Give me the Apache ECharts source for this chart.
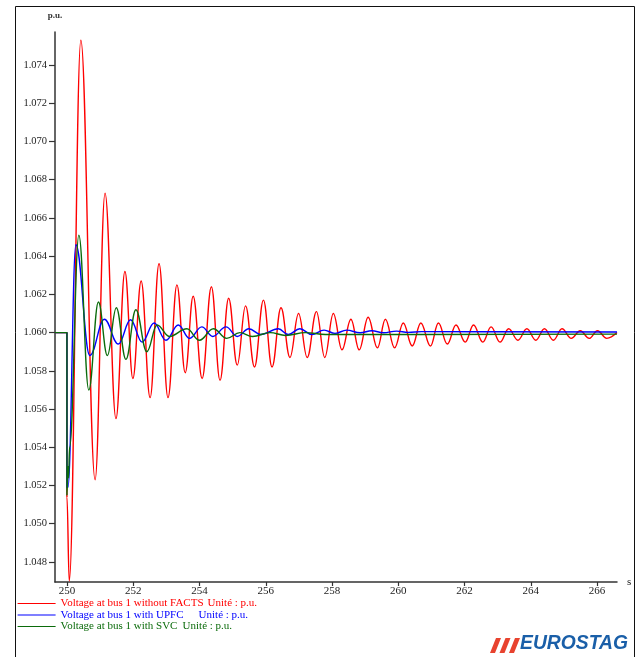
<!DOCTYPE html>
<html>
<head>
<meta charset="utf-8">
<script src="https://cdn.jsdelivr.net/npm/echarts@6/dist/echarts.min.js"></script>
<style>
html,body{margin:0;padding:0;background:#fff;}
#chart{width:641px;height:657px;}
</style>
</head>
<body>
<div id="chart"></div>
<script>
// ---- Data (time in s, voltage in p.u.) ----
const xTicks = [250, 252, 254, 256, 258, 260, 262, 264, 266];
const yTicks = [1.048, 1.050, 1.052, 1.054, 1.056, 1.058, 1.060, 1.062, 1.064, 1.066, 1.068, 1.070, 1.072, 1.074];

const seriesNames = [
  "Voltage at bus 1 without FACTS",
  "Voltage at bus 1 with UPFC",
  "Voltage at bus 1 with SVC"
];

// without FACTS (red)
const redT = [249.64, 250.00, 250.00, 250.07, 250.42, 250.85, 251.15, 251.48, 251.75, 251.99,
  252.24, 252.51, 252.78, 253.05, 253.32, 253.57, 253.81, 254.08, 254.36, 254.62,
  254.88, 255.14, 255.39, 255.66, 255.93, 256.19, 256.46, 256.73, 256.99, 257.25,
  257.53, 257.78, 258.04, 258.30, 258.57, 258.82, 259.09, 259.37, 259.61, 259.89,
  260.15, 260.42, 260.68, 260.97, 261.21, 261.48, 261.74, 262.02, 262.27, 262.55,
  262.80, 263.07, 263.33, 263.61, 263.88, 264.15, 264.41, 264.68, 264.94, 265.22,
  265.49, 265.76, 266.01, 266.29, 266.60];
const redV = [1.0600, 1.0600, 1.0514, 1.0470, 1.0753, 1.0523, 1.0673, 1.0555, 1.0632, 1.0576,
  1.0627, 1.0566, 1.0636, 1.0566, 1.0625, 1.0579, 1.0619, 1.0576, 1.0624, 1.0575,
  1.0618, 1.0583, 1.0614, 1.0582, 1.0617, 1.0582, 1.0613, 1.0587, 1.0610, 1.0587,
  1.0611, 1.0587, 1.0610, 1.0591, 1.0607, 1.0591, 1.0608, 1.0592, 1.0607, 1.0592,
  1.0605, 1.0593, 1.0605, 1.0593, 1.0605, 1.0594, 1.0604, 1.0595, 1.0604, 1.0595,
  1.0603, 1.0595, 1.0602, 1.0596, 1.0602, 1.0596, 1.0602, 1.0596, 1.0602, 1.0597,
  1.0601, 1.0597, 1.0601, 1.0597, 1.0600];

// with UPFC (blue)
const blueT = [249.64, 250.00, 250.00, 250.03, 250.27, 250.69, 251.13, 251.55, 251.92, 252.27,
  252.63, 252.99, 253.36, 253.70, 254.07, 254.40, 254.80, 255.14, 255.49, 255.85,
  256.38, 256.68, 257.03, 257.39, 257.76, 258.09, 258.44, 258.85, 259.20, 259.55,
  259.95, 260.30, 260.70, 266.60];
const blueV = [1.0600, 1.0600, 1.0519, 1.0519, 1.0646, 1.0588, 1.0607, 1.0594, 1.06067, 1.0595,
  1.0605, 1.0596, 1.0604, 1.0597, 1.0603, 1.0598, 1.0603, 1.0598, 1.0602, 1.0599,
  1.0602, 1.0599, 1.0602, 1.0599, 1.06013, 1.05996, 1.06013, 1.05999, 1.0601, 1.05999,
  1.06008, 1.06001, 1.06005, 1.06003];

// with SVC (green)
const greenT = [249.64, 250.00, 250.00, 250.03, 250.05, 250.08, 250.36, 250.66, 250.95, 251.22,
  251.49, 251.78, 252.08, 252.41, 252.72, 253.09, 253.62, 254.00, 254.42, 254.82,
  255.22, 255.60, 256.13, 256.60, 257.20, 257.80, 266.60];
const greenV = [1.0600, 1.0600, 1.0515, 1.0530, 1.0524, 1.0540, 1.0651, 1.0570, 1.0616, 1.0588,
  1.0613, 1.0586, 1.0612, 1.0590, 1.0604, 1.0598, 1.0602, 1.0596, 1.0602, 1.0597,
  1.0600, 1.0598, 1.0600, 1.05985, 1.0600, 1.0599, 1.05992];

const colors = ['#ff0000', '#0000ff', '#0b6b0b'];

// ---- Chart ----
const chart = echarts.init(document.getElementById('chart'), null, {renderer: 'canvas'});
const pair = (T, V) => T.map((t, i) => [t, V[i]]);
const serif = '"Liberation Serif", "DejaVu Serif", serif';

const mkSeries = (name, data, color) => ({
  name: name,
  type: 'line',
  data: data,
  symbol: 'none',
  smooth: 0.4,
  smoothMonotone: 'x',
  lineStyle: {color: color, width: 1.4},
  itemStyle: {color: color},
  z: 3
});

const option = {
  animation: false,
  backgroundColor: '#fff',
  grid: {left: 55, right: 24, top: 32, bottom: 75, containLabel: false, outerBoundsMode: 'none'},
  xAxis: {
    type: 'value',
    min: 249.64,
    max: 266.6,
    name: 's',
    nameLocation: 'end',
    nameGap: 10,
    nameTextStyle: {fontFamily: serif, fontSize: 11, color: '#222', verticalAlign: 'middle', align: 'left'},
    axisLine: {show: true, onZero: false, lineStyle: {color: '#333', width: 1.5}},
    axisTick: {show: true, length: 4, customValues: xTicks, lineStyle: {color: '#333', width: 1.2}},
    axisLabel: {customValues: xTicks, margin: 4, fontFamily: serif, fontSize: 11, color: '#222',
      formatter: v => String(v)},
    splitLine: {show: false}
  },
  yAxis: {
    type: 'value',
    min: 1.04695,
    max: 1.07573,
    name: 'p.u.',
    nameLocation: 'end',
    nameGap: 12,
    nameTextStyle: {fontFamily: serif, fontSize: 9, fontWeight: 'bold', color: '#333', align: 'center'},
    axisLine: {show: true, onZero: false, lineStyle: {color: '#333', width: 1.5}},
    axisTick: {show: true, length: 6, customValues: yTicks, lineStyle: {color: '#333', width: 1.2}},
    axisLabel: {customValues: yTicks, margin: 8, fontFamily: serif, fontSize: 10.5, color: '#222',
      formatter: v => v.toFixed(3)},
    splitLine: {show: false}
  },
  legend: {
    orient: 'vertical',
    left: 17,
    top: 598,
    itemWidth: 38,
    itemHeight: 11,
    itemGap: 0.5,
    padding: 0,
    data: seriesNames,
    itemStyle: {opacity: 0},
    lineStyle: {width: 1.2},
    formatter: function (name) {
      const i = seriesNames.indexOf(name);
      const k = ['r', 'b', 'g'][i];
      return '{' + k + '|' + name + '}{' + k + 'u|Unité : p.u.}';
    },
    textStyle: {
      fontFamily: serif, fontSize: 11, lineHeight: 11,
      rich: {
        r: {color: colors[0], fontFamily: serif, fontSize: 11, width: 147},
        ru: {color: colors[0], fontFamily: serif, fontSize: 11},
        b: {color: colors[1], fontFamily: serif, fontSize: 11, width: 138},
        bu: {color: colors[1], fontFamily: serif, fontSize: 11},
        g: {color: colors[2], fontFamily: serif, fontSize: 11, width: 122},
        gu: {color: colors[2], fontFamily: serif, fontSize: 11}
      }
    }
  },
  graphic: [
    {type: 'rect', shape: {x: 15.5, y: 6.5, width: 619, height: 700},
      style: {fill: 'none', stroke: '#111', lineWidth: 1}, silent: true, z: 0},
    {type: 'polygon', shape: {points: [[490, 653], [495, 653], [501, 638], [496, 638]]}, style: {fill: '#e8432f'}},
    {type: 'polygon', shape: {points: [[499.5, 653], [504.5, 653], [510.5, 638], [505.5, 638]]}, style: {fill: '#e8432f'}},
    {type: 'polygon', shape: {points: [[509, 653], [514, 653], [520, 638], [515, 638]]}, style: {fill: '#e8432f'}},
    {type: 'text', x: 520, y: 654, scaleX: 0.92,
      style: {text: 'EUROSTAG', fill: '#1a5fa8',
        font: 'italic bold 21px "Liberation Sans", Arial, sans-serif',
        textAlign: 'left', textVerticalAlign: 'bottom', verticalAlign: 'bottom'}}
  ],
  series: [
    mkSeries(seriesNames[0], pair(redT, redV), colors[0]),
    mkSeries(seriesNames[1], pair(blueT, blueV), colors[1]),
    mkSeries(seriesNames[2], pair(greenT, greenV), colors[2])
  ]
};
chart.setOption(option);
</script>
</body>
</html>
